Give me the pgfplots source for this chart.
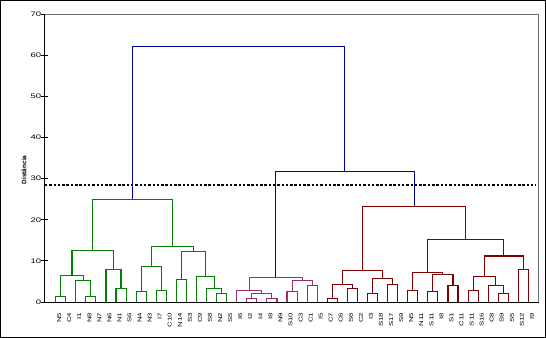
\documentclass[border=0pt]{standalone}
\usepackage{pgfplots}
\pgfplotsset{compat=1.18}
\usepackage{fontspec}
\setmainfont{Liberation Sans}
\newfontfamily\tickfont[FakeStretch=1.45]{Liberation Sans}
\newfontfamily\leaffont[FakeStretch=1.4]{Liberation Sans}
\definecolor{dgreen}{RGB}{0,128,0}
\definecolor{dpurple}{RGB}{153,45,110}
\definecolor{dred}{RGB}{128,0,0}
\definecolor{dblue}{RGB}{0,0,150}
\definecolor{framegray}{RGB}{110,110,110}
\begin{document}
\begin{tikzpicture}
\path[use as bounding box] (-45bp,-36bp) rectangle (501bp,302bp);
\begin{axis}[
  name=ax,
  at={(0,0)}, anchor=south west,
  scale only axis, width=493.5bp, height=287.7bp,
  xmin=-1.06, xmax=48.0, ymin=0, ymax=70,
  clip=false,
  axis lines=left, axis line style={-, line width=1bp, black},
  unbounded coords=jump,
  ytick={0,10,...,70},
  tick align=center, major tick length=7bp,
  ytick style={black, line width=0.8bp},
  xtick style={draw=none},
  /pgf/number format/assume math mode=true,
  yticklabel style={font=\tickfont\fontsize{6.6}{7}\selectfont, inner sep=0pt},
  xtick={0,...,47},
  xticklabels={N5,C4,I1,N8,N7,N6,N1,S6,N4,N3,I7,C10,N14,S3,C9,S8,N2,S5,I6,I2,I4,I8,N9,S10,C3,C1,I5,C7,C6,S6,C2,I3,S18,S17,S9,N5,N11,S11,I8,S1,C11,S11,S16,C8,S9,S5,S12,I9},
  xticklabel style={font=\leaffont\fontsize{5.6}{6}\selectfont, xshift=3.5bp, rotate=90, anchor=east, inner sep=0pt},
  xticklabel shift=7bp,
  ylabel={Distância},
  every axis y label/.style={at={(rel axis cs:0,0.459)}, xshift=-21bp, rotate=90, anchor=center, font=\fontsize{6.5}{7}\selectfont\bfseries},
]
% plot frame (top and right, gray)
\addplot[framegray, line width=1.3bp] coordinates {(-1.06,70)(48.0,70)(48.0,0)};
% green cluster
\addplot[dgreen, line width=1.1bp] coordinates {
(0,0)(0,1.4)(1,1.4)(1,0) (0,nan)
(3,0)(3,1.4)(4,1.4)(4,0) (0,nan)
(2,0)(2,5.3)(3.5,5.3)(3.5,1.4) (0,nan)
(0.5,1.4)(0.5,6.5)(2.75,6.5)(2.75,5.3) (0,nan)
(6,0)(6,3.3)(7,3.3)(7,0) (0,nan)
(5,0)(5,8.0)(6.5,8.0)(6.5,3.3) (0,nan)
(1.625,6.5)(1.625,12.6)(5.75,12.6)(5.75,8.0) (0,nan)
(8,0)(8,2.55)(9,2.55)(9,0) (0,nan)
(10,0)(10,2.85)(11,2.85)(11,0) (0,nan)
(8.5,2.55)(8.5,8.7)(10.5,8.7)(10.5,2.85) (0,nan)
(12,0)(12,5.5)(13,5.5)(13,0) (0,nan)
(16,0)(16,2.1)(17,2.1)(17,0) (0,nan)
(15,0)(15,3.3)(16.5,3.3)(16.5,2.1) (0,nan)
(14,0)(14,6.25)(15.75,6.25)(15.75,3.3) (0,nan)
(12.5,5.5)(12.5,12.3)(14.875,12.3)(14.875,6.25) (0,nan)
(9.5,8.7)(9.5,13.6)(13.6875,13.6)(13.6875,12.3) (0,nan)
(3.6875,12.6)(3.6875,25.0)(11.59375,25.0)(11.59375,13.6)
};
% purple cluster
\addplot[dpurple, line width=1.1bp] coordinates {
(19,0)(19,0.9)(20,0.9)(20,0) (0,nan)
(21,0)(21,0.8)(22,0.8)(22,0) (0,nan)
(19.5,0.9)(19.5,2.05)(21.5,2.05)(21.5,0.8) (0,nan)
(18,0)(18,2.9)(20.5,2.9)(20.5,2.05) (0,nan)
(23,0)(23,2.6)(24,2.6)(24,0) (0,nan)
(25,0)(25,4.05)(26,4.05)(26,0) (0,nan)
(23.5,2.6)(23.5,5.3)(25.5,5.3)(25.5,4.05) (0,nan)
(19.25,2.9)(19.25,6.0)(24.5,6.0)(24.5,5.3)
};
% red cluster
\addplot[dred, line width=1.1bp] coordinates {
(27,0)(27,0.9)(28,0.9)(28,0) (0,nan)
(29,0)(29,3.3)(30,3.3)(30,0) (0,nan)
(27.5,0.9)(27.5,4.3)(29.5,4.3)(29.5,3.3) (0,nan)
(31,0)(31,2.1)(32,2.1)(32,0) (0,nan)
(33,0)(33,4.3)(34,4.3)(34,0) (0,nan)
(31.5,2.1)(31.5,5.75)(33.5,5.75)(33.5,4.3) (0,nan)
(28.5,4.3)(28.5,7.7)(32.5,7.7)(32.5,5.75) (0,nan)
(35,0)(35,2.85)(36,2.85)(36,0) (0,nan)
(37,0)(37,2.6)(38,2.6)(38,0) (0,nan)
(39,0)(39,4.05)(40,4.05)(40,0) (0,nan)
(37.5,2.6)(37.5,6.75)(39.5,6.75)(39.5,4.05) (0,nan)
(35.5,2.85)(35.5,7.1)(38.5,7.1)(38.5,6.75) (0,nan)
(41,0)(41,2.85)(42,2.85)(42,0) (0,nan)
(44,0)(44,2.1)(45,2.1)(45,0) (0,nan)
(43,0)(43,4.05)(44.5,4.05)(44.5,2.1) (0,nan)
(41.5,2.85)(41.5,6.25)(43.75,6.25)(43.75,4.05) (0,nan)
(46,0)(46,7.95)(47,7.95)(47,0) (0,nan)
(42.625,6.25)(42.625,11.2)(46.5,11.2)(46.5,7.95) (0,nan)
(37,7.1)(37,15.25)(44.5625,15.25)(44.5625,11.2) (0,nan)
(30.5,7.7)(30.5,23.3)(40.78125,23.3)(40.78125,15.25)
};
% blue links
\addplot[dblue, line width=1.1bp] coordinates {
(21.875,6.0)(21.875,31.8)(35.640625,31.8)(35.640625,23.3) (0,nan)
(7.640625,25.0)(7.640625,62.2)(28.7578125,62.2)(28.7578125,31.8)
};
% cut line
\addplot[black, line width=1.6bp, dash pattern=on 2.5bp off 1.8bp] coordinates {(-1.06,28.5)(47.8,28.5)};
\end{axis}
\draw[black, line width=1bp] (-44.5bp,-35.5bp) rectangle (500.5bp,301.5bp);
\end{tikzpicture}
\end{document}
